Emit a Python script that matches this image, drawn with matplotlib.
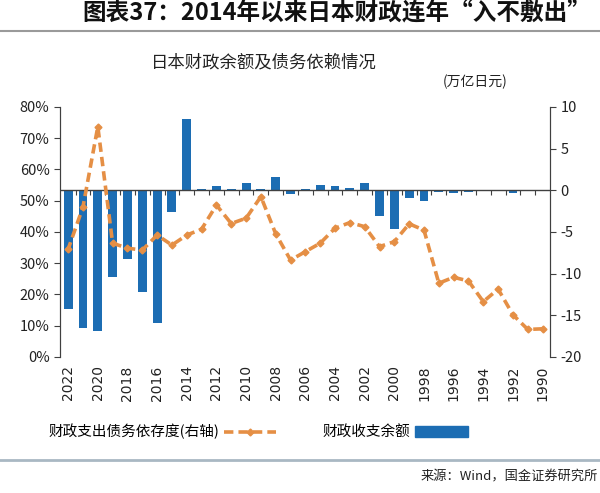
import matplotlib
matplotlib.use("Agg")
import matplotlib.pyplot as plt
import numpy as np
from matplotlib.lines import Line2D
from matplotlib.patches import Patch

plt.rcParams['font.family'] = ['Noto Sans CJK SC', 'DejaVu Sans']
plt.rcParams['axes.unicode_minus'] = False

years = np.arange(1990, 2023)
# 财政收支余额 (万亿日元), 1990 -> 2022
balance = [0.05, -0.1, -0.3, -0.1, -0.1, -0.2, -0.3, -0.2, -1.3, -0.9,
           -4.7, -3.1, 0.9, 0.3, 0.5, 0.6, 0.2, -0.5, 1.6, 0.2,
           0.9, 0.1, 0.5, 0.2, 8.5, -2.6, -15.9, -12.2, -8.3, -10.4,
           -16.9, -16.5, -14.2]
# 财政支出债务依存度 (%), 1990 -> 2022
dependence = [9.0, 8.8, 13.5, 21.7, 17.7, 24.3, 25.5, 23.6, 40.6, 42.6,
              36.9, 35.3, 41.7, 43.0, 41.2, 36.4, 33.7, 31.0, 39.4, 51.3,
              44.4, 42.7, 48.6, 40.9, 39.0, 35.8, 39.0, 34.2, 34.8, 36.4,
              73.7, 48.0, 34.5]
tick_years = np.arange(1990, 2023, 2)

BLUE = '#1c6db3'
ORANGE = '#e58f45'
DARK = '#404040'

fig = plt.figure(figsize=(6, 4.93), dpi=100)
ax = fig.add_axes([0.1, 0.276, 0.8167, 0.507])
ax2 = ax.twinx()

ax.bar(years, balance, width=0.6, color=BLUE, zorder=2)
ax.axhline(0, color=DARK, lw=1, zorder=3)
ax.vlines(np.arange(1990.5, 2022, 1), -0.6, 0, color=DARK, lw=0.8, zorder=3)
ax.set_ylim(-20, 10)
ax.set_yticks([-20, -15, -10, -5, 0, 5, 10])
ax.yaxis.tick_right()

ax2.plot(years, np.array(dependence) / 100, color=ORANGE, lw=2.6,
         ls=(0, (2.6, 1.4)), marker='D', ms=3.5, zorder=4)
ax2.set_ylim(0, 0.8)
ax2.set_yticks(np.arange(0, 0.81, 0.1))
ax2.set_yticklabels([f"{int(round(v * 100))}%" for v in np.arange(0, 0.81, 0.1)])
ax2.yaxis.tick_left()

# mirrored layout: latest year on the left
ax.set_xlim(2022.55, 1989.5)
ax.set_xticks(tick_years)
ax.set_xticklabels([str(y) for y in tick_years], rotation=90, fontsize=10,
                   family='DejaVu Sans', color='#222222')
ax.tick_params(axis='x', length=0, pad=6)

for a in (ax, ax2):
    for s in ('top', 'bottom'):
        a.spines[s].set_visible(False)
    a.spines['left'].set_color(DARK)
    a.spines['right'].set_color(DARK)
    a.tick_params(axis='y', colors=DARK, labelcolor='#222222', labelsize=10.5,
                  direction='out', length=4)

fig.text(0.985, 0.975, "图表37：2014年以来日本财政连年“入不敷出”", ha='right', va='center',
         fontsize=17, fontweight='bold', color='#111111')
fig.add_artist(Line2D([0, 1], [0.938, 0.938], color='#9a9a9a', lw=1.5))
fig.text(0.44, 0.874, "日本财政余额及债务依赖情况", ha='center', va='center',
         fontsize=12.5, color='#222222')
fig.text(0.845, 0.834, "(万亿日元)", ha='right', va='center', fontsize=10,
         color='#222222')

handles = [Line2D([], [], color=ORANGE, lw=2.6, ls=(0, (2.6, 1.4)), marker='D', ms=3.5),
           Patch(color=BLUE)]
fig.legend(handles, ["财政支出债务依存度(右轴)", "财政收支余额"], loc='center',
           bbox_to_anchor=(0.43, 0.124), ncol=2, frameon=False, markerfirst=False,
           fontsize=10.5, handlelength=3.6, columnspacing=3.2, handletextpad=0.3)

fig.add_artist(Line2D([0, 1], [0.067, 0.067], color='#a9b8c3', lw=2))
fig.text(0.997, 0.032, "来源：Wind，国金证券研究所", ha='right', va='center',
         fontsize=9.5, color='#222222')

fig.savefig("out.png", dpi=100)
